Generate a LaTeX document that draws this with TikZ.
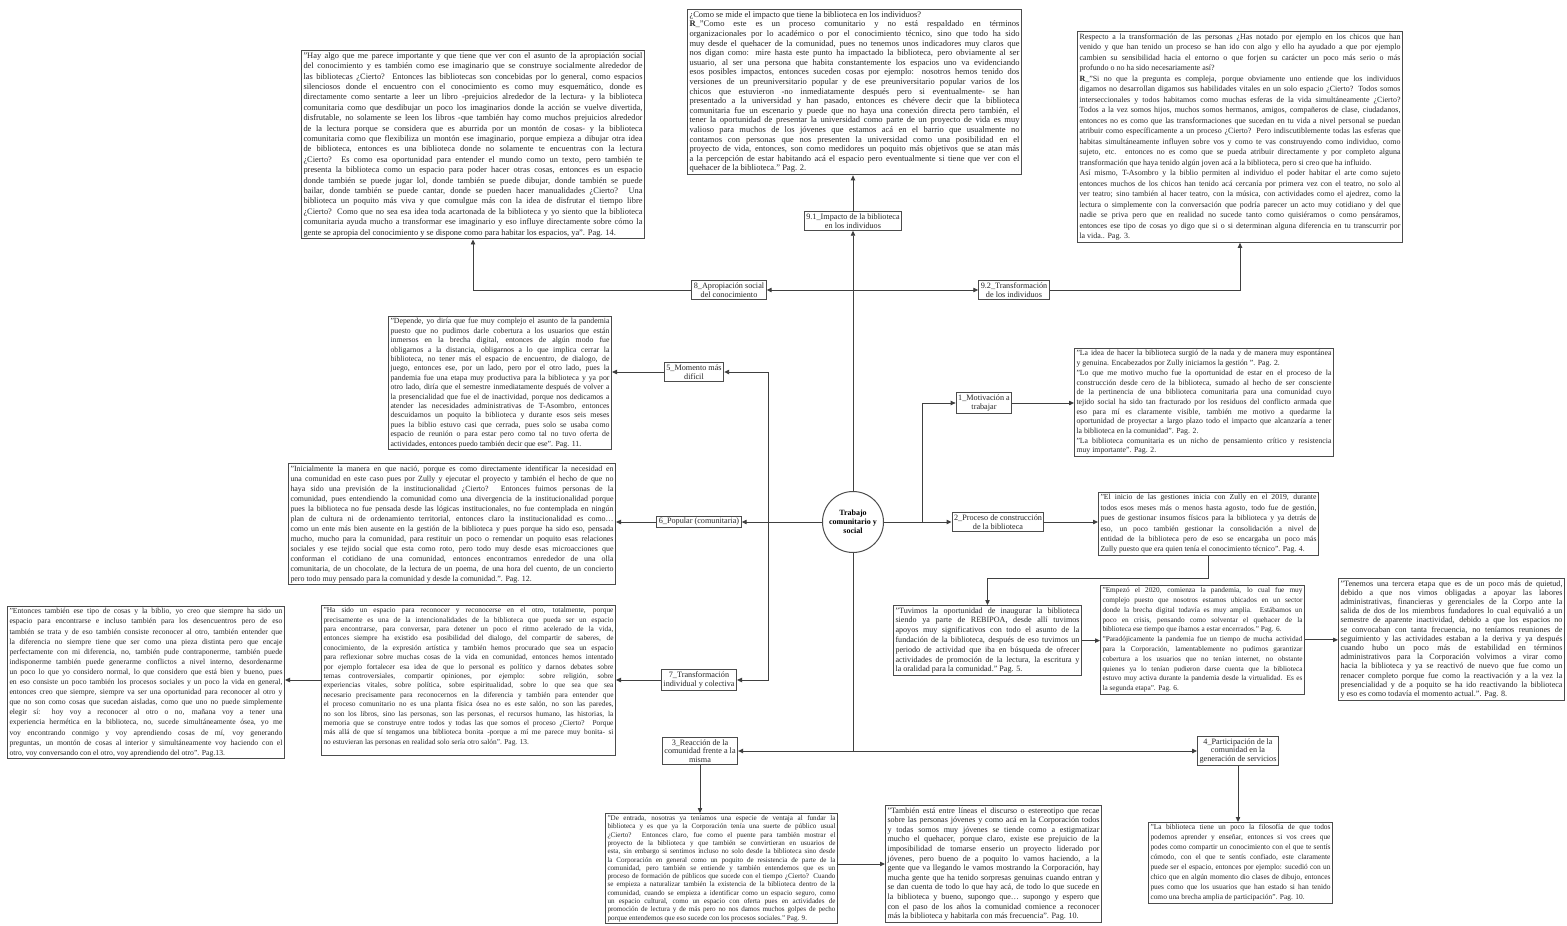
\documentclass[tikz,border=0pt]{standalone}
\usepackage{fontspec}
\setmainfont{Liberation Serif}
\usetikzlibrary{arrows.meta}
\newcommand{\qfont}[2]{\fontsize{#1}{#2}\selectfont}
\newcommand{\lnbr}{\linebreak}
\begin{document}
\begin{tikzpicture}[x=1pt, y=-1pt,
	quote/.style={draw=black!70, line width=1pt, anchor=north west, align=justify, inner sep=2pt, text=black!85},
	topic/.style={draw=black!70, line width=1pt, align=center, inner sep=2pt, text=black!85, font=\qfont{8.2}{8.7}},
	hub/.style={circle, draw=black!70, line width=1pt, minimum size=61pt, inner sep=0pt, align=center, font=\bfseries\qfont{8}{9}},
	wire/.style={draw=black!75, line width=0.9pt},
	link/.style={wire, -{Triangle[length=5pt,width=4.4pt]}}]
	\useasboundingbox[fill=white] (0,0) rectangle (1567,926);
	\clip (0,0) rectangle (1567,926);

	\node[hub] (hub) at (853,522) {Trabajo\\comunitario y\\social};

	\node[topic] (t91) at (853,221) {9.1\_Impacto de la biblioteca\\en los individuos};
	\node[topic] (t8) at (729,290) {8\_Apropiación social\\del conocimiento};
	\node[topic] (t92) at (1014,290) {9.2\_Transformación\\de los individuos};
	\node[topic] (t5) at (694,372) {5\_Momento más\\difícil};
	\node[topic] (t6) at (699,522) {6\_Popular (comunitaria)};
	\node[topic] (t7) at (699,680) {7\_Transformación\\individual y colectiva};
	\node[topic] (t3) at (700,751) {3\_Reacción de la\\comunidad frente a la\\misma};
	\node[topic] (t4) at (1238,751) {4\_Participación de la\\comunidad en la\\generación de servicios};
	\node[topic] (t1) at (984,403) {1\_Motivación a\\trabajar};
	\node[topic] (t2) at (998,522) {2\_Proceso de construcción\\de la biblioteca};

	\node[quote, text width=339pt, font=\qfont{8.4}{10.4}] (qA) at (301,50) {"Hay algo que me parece importante y que tiene que ver con el asunto de la apropiación social\lnbr
		del conocimiento y es también como ese imaginario que se construye socialmente alrededor de\lnbr
		las bibliotecas ¿Cierto? Entonces las bibliotecas son concebidas por lo general, como espacios\lnbr
		silenciosos donde el encuentro con el conocimiento es como muy esquemático, donde es\lnbr
		directamente como sentarte a leer un libro -prejuicios alrededor de la lectura- y la biblioteca\lnbr
		comunitaria como que desdibujar un poco los imaginarios donde la acción se vuelve divertida,\lnbr
		disfrutable, no solamente se leen los libros -que también hay como muchos prejuicios alrededor\lnbr
		de la lectura porque se considera que es aburrida por un montón de cosas- y la biblioteca\lnbr
		comunitaria como que flexibiliza un montón ese imaginario, porque empieza a dibujar otra idea\lnbr
		de biblioteca, entonces es una biblioteca donde no solamente te encuentras con la lectura\lnbr
		¿Cierto? Es como esa oportunidad para entender el mundo como un texto, pero también te\lnbr
		presenta la biblioteca como un espacio para poder hacer otras cosas, entonces es un espacio\lnbr
		donde también se puede jugar lol, donde también se puede dibujar, donde también se puede\lnbr
		bailar, donde también se puede cantar, donde se pueden hacer manualidades ¿Cierto? Una\lnbr
		biblioteca un poquito más viva y que comulgue más con la idea de disfrutar el tiempo libre\lnbr
		¿Cierto? Como que no sea esa idea toda acartonada de la biblioteca y yo siento que la biblioteca\lnbr
		comunitaria ayuda mucho a transformar ese imaginario y eso influye directamente sobre cómo la\lnbr
		gente se apropia del conocimiento y se dispone como para habitar los espacios, ya". Pag. 14.};

	\node[quote, text width=330pt, font=\qfont{8.5}{9.6}] (q91) at (687,9) {¿Como se mide el impacto que tiene la biblioteca en los individuos?\\
		\textbf{R}\_"Como este es un proceso comunitario y no está respaldado en términos\lnbr
		organizacionales por lo académico o por el conocimiento técnico, sino que todo ha sido\lnbr
		muy desde el quehacer de la comunidad, pues no tenemos unos indicadores muy claros que\lnbr
		nos digan como: mire hasta este punto ha impactado la biblioteca, pero obviamente al ser\lnbr
		usuario, al ser una persona que habita constantemente los espacios uno va evidenciando\lnbr
		esos posibles impactos, entonces suceden cosas por ejemplo: nosotros hemos tenido dos\lnbr
		versiones de un preuniversitario popular y de ese preuniversitario popular varios de los\lnbr
		chicos que estuvieron -no inmediatamente después pero si eventualmente- se han\lnbr
		presentado a la universidad y han pasado, entonces es chévere decir que la biblioteca\lnbr
		comunitaria fue un escenario y puede que no haya una conexión directa pero también, el\lnbr
		tener la oportunidad de presentar la universidad como parte de un proyecto de vida es muy\lnbr
		valioso para muchos de los jóvenes que estamos acá en el barrio que usualmente no\lnbr
		contamos con personas que nos presenten la universidad como una posibilidad en el\lnbr
		proyecto de vida, entonces, son como medidores un poquito más objetivos que se atan más\lnbr
		a la percepción de estar habitando acá el espacio pero eventualmente si tiene que ver con el\lnbr
		quehacer de la biblioteca." Pag. 2.};

	\node[quote, text width=321pt, font=\qfont{7.95}{10.5}] (qC) at (1077,31) {Respecto a la transformación de las personas ¿Has notado por ejemplo en los chicos que han\lnbr
		venido y que han tenido un proceso se han ido con algo y ello ha ayudado a que por ejemplo\lnbr
		cambien su sensibilidad hacia el entorno o que forjen su carácter un poco más serio o más\lnbr
		profundo o no ha sido necesariamente así?\\
		\textbf{R}\_"Si no que la pregunta es compleja, porque obviamente uno entiende que los individuos\lnbr
		digamos no desarrollan digamos sus habilidades vitales en un solo espacio ¿Cierto? Todos somos\lnbr
		interseccionales y todos habitamos como muchas esferas de la vida simultáneamente ¿Cierto?\lnbr
		Todos a la vez somos hijos, muchos somos hermanos, amigos, compañeros de clase, ciudadanos,\lnbr
		entonces no es como que las transformaciones que sucedan en tu vida a nivel personal se puedan\lnbr
		atribuir como específicamente a un proceso ¿Cierto? Pero indiscutiblemente todas las esferas que\lnbr
		habitas simultáneamente influyen sobre vos y como te vas construyendo como individuo, como\lnbr
		sujeto, etc. entonces no es como que se pueda atribuir directamente y por completo alguna\lnbr
		transformación que haya tenido algún joven acá a la biblioteca, pero si creo que ha influido.\\
		Así mismo, T-Asombro y la biblio permiten al individuo el poder habitar el arte como sujeto\lnbr
		entonces muchos de los chicos han tenido acá cercanía por primera vez con el teatro, no solo al\lnbr
		ver teatro; sino también al hacer teatro, con la música, con actividades como el ajedrez, como la\lnbr
		lectura o simplemente con la conversación que podría parecer un acto muy cotidiano y del que\lnbr
		nadie se priva pero que en realidad no sucede tanto como quisiéramos o como pensáramos,\lnbr
		entonces ese tipo de cosas yo digo que si o si determinan alguna diferencia en tu transcurrir por\lnbr
		la vida.. Pag. 3.};

	\node[quote, text width=219pt, font=\qfont{7.8}{9.4}] (q5) at (388,316) {"Depende, yo diría que fue muy complejo el asunto de la pandemia\lnbr
		puesto que no pudimos darle cobertura a los usuarios que están\lnbr
		inmersos en la brecha digital, entonces de algún modo fue\lnbr
		obligarnos a la distancia, obligarnos a lo que implica cerrar la\lnbr
		biblioteca, no tener más el espacio de encuentro, de dialogo, de\lnbr
		juego, entonces ese, por un lado, pero por el otro lado, pues la\lnbr
		pandemia fue una etapa muy productiva para la biblioteca y ya por\lnbr
		otro lado, diría que el semestre inmediatamente después de volver a\lnbr
		la presencialidad que fue el de inactividad, porque nos dedicamos a\lnbr
		atender las necesidades administrativas de T-Asombro, entonces\lnbr
		descuidamos un poquito la biblioteca y durante esos seis meses\lnbr
		pues la biblio estuvo casi que cerrada, pues solo se usaba como\lnbr
		espacio de reunión o para estar pero como tal no tuvo oferta de\lnbr
		actividades, entonces puedo también decir que ese". Pag. 11.};

	\node[quote, text width=323pt, font=\qfont{7.9}{10}] (q6) at (288,463) {"Inicialmente la manera en que nació, porque es como directamente identificar la necesidad en\lnbr
		una comunidad en este caso pues por Zully y ejecutar el proyecto y también el hecho de que no\lnbr
		haya sido una previsión de la institucionalidad ¿Cierto? Entonces fuimos personas de la\lnbr
		comunidad, pues entendiendo la comunidad como una divergencia de la institucionalidad porque\lnbr
		pues la biblioteca no fue pensada desde las lógicas institucionales, no fue contemplada en ningún\lnbr
		plan de cultura ni de ordenamiento territorial, entonces claro la institucionalidad es como…\lnbr
		como un ente más bien ausente en la gestión de la biblioteca y pues porque ha sido eso, pensada\lnbr
		mucho, mucho para la comunidad, para restituir un poco o remendar un poquito esas relaciones\lnbr
		sociales y ese tejido social que esta como roto, pero todo muy desde esas microacciones que\lnbr
		conforman el cotidiano de una comunidad, entonces encontramos enrededor de una olla\lnbr
		comunitaria, de un chocolate, de la lectura de un poema, de una hora del cuento, de un concierto\lnbr
		pero todo muy pensado para la comunidad y desde la comunidad.". Pag. 12.};

	\node[quote, text width=273pt, font=\qfont{7.7}{10.1}] (q7a) at (7,606) {"Entonces también ese tipo de cosas y la biblio, yo creo que siempre ha sido un\lnbr
		espacio para encontrarse e incluso también para los desencuentros pero de eso\lnbr
		también se trata y de eso también consiste reconocer al otro, también entender que\lnbr
		la diferencia no siempre tiene que ser como una pieza distinta pero que encaje\lnbr
		perfectamente con mi diferencia, no, también pude contraponerme, también puede\lnbr
		indisponerme también puede generarme conflictos a nivel interno, desordenarme\lnbr
		un poco lo que yo considero normal, lo que considero que está bien y bueno, pues\lnbr
		en eso consiste un poco también los procesos sociales y un poco la vida en general,\lnbr
		entonces creo que siempre, siempre va ser una oportunidad para reconocer al otro y\lnbr
		que no son como cosas que sucedan aisladas, como que uno no puede simplemente\lnbr
		elegir sí: hoy voy a reconocer al otro o no, mañana voy a tener una\lnbr
		experiencia hermética en la biblioteca, no, sucede simultáneamente ósea, yo me\lnbr
		voy encontrando conmigo y voy aprendiendo cosas de mí, voy generando\lnbr
		preguntas, un montón de cosas al interior y simultáneamente voy haciendo con el\lnbr
		otro, voy conversando con el otro, voy aprendiendo del otro". Pag.13.};

	\node[quote, text width=290pt, font=\qfont{7.4}{9.4}] (q7b) at (321,605) {"Ha sido un espacio para reconocer y reconocerse en el otro, totalmente, porque\lnbr
		precisamente es una de la intencionalidades de la biblioteca que pueda ser un espacio\lnbr
		para encontrarse, para conversar, para detener un poco el ritmo acelerado de la vida,\lnbr
		entonces siempre ha existido esa posibilidad del dialogo, del compartir de saberes, de\lnbr
		conocimiento, de la expresión artística y también hemos procurado que sea un espacio\lnbr
		para reflexionar sobre muchas cosas de la vida en comunidad, entonces hemos intentado\lnbr
		por ejemplo fortalecer esa idea de que lo personal es político y darnos debates sobre\lnbr
		temas controversiales, compartir opiniones, por ejemplo: sobre religión, sobre\lnbr
		experiencias vitales, sobre política, sobre espiritualidad, sobre lo que sea que sea\lnbr
		necesario precisamente para reconocernos en la diferencia y también para entender que\lnbr
		el proceso comunitario no es una planta física ósea no es este salón, no son las paredes,\lnbr
		no son los libros, sino las personas, son las personas, el recursos humano, las historias, la\lnbr
		memoria que se construye entre todos y todas las que somos el proceso ¿Cierto? Porque\lnbr
		más allá de que sí tengamos una biblioteca bonita -porque a mí me parece muy bonita- si\lnbr
		no estuvieran las personas en realidad solo sería otro salón". Pag. 13.\\\mbox{}};

	\node[quote, text width=228pt, font=\qfont{7.1}{8.3}] (q3) at (605,813) {"De entrada, nosotras ya teníamos una especie de ventaja al fundar la\lnbr
		biblioteca y es que ya la Corporación tenía una suerte de público usual\lnbr
		¿Cierto? Entonces claro, fue como el puente para también mostrar el\lnbr
		proyecto de la biblioteca y que también se convirtieran en usuarios de\lnbr
		esta, sin embargo si sentimos incluso no solo desde la biblioteca sino desde\lnbr
		la Corporación en general como un poquito de resistencia de parte de la\lnbr
		comunidad, pero también se entiende y también entendemos que es un\lnbr
		proceso de formación de públicos que sucede con el tiempo ¿Cierto? Cuando\lnbr
		se empieza a naturalizar también la existencia de la biblioteca dentro de la\lnbr
		comunidad, cuando se empieza a identificar como un espacio seguro, como\lnbr
		un espacio cultural, como un espacio con oferta pues en actividades de\lnbr
		promoción de lectura y de más pero no nos damos muchos golpes de pecho\lnbr
		porque entendemos que eso sucede con los procesos sociales." Pag. 9.};

	\node[quote, text width=212pt, font=\qfont{8.1}{9.6}] (q3b) at (885,805) {"También está entre líneas el discurso o estereotipo que recae\lnbr
		sobre las personas jóvenes y como acá en la Corporación todos\lnbr
		y todas somos muy jóvenes se tiende como a estigmatizar\lnbr
		mucho el quehacer, porque claro, existe ese prejuicio de la\lnbr
		imposibilidad de tomarse enserio un proyecto liderado por\lnbr
		jóvenes, pero bueno de a poquito lo vamos haciendo, a la\lnbr
		gente que va llegando le vamos mostrando la Corporación, hay\lnbr
		mucha gente que ha tenido sorpresas genuinas cuando entran y\lnbr
		se dan cuenta de todo lo que hay acá, de todo lo que sucede en\lnbr
		la biblioteca y bueno, supongo que… supongo y espero que\lnbr
		con el paso de los años la comunidad comience a reconocer\lnbr
		más la biblioteca y habitarla con más frecuencia". Pag. 10.};

	\node[quote, text width=180pt, font=\qfont{7.4}{10}] (q4) at (1148,822) {"La biblioteca tiene un poco la filosofía de que todos\lnbr
		podemos aprender y enseñar, entonces si vos crees que\lnbr
		podes como compartir un conocimiento con el que te sentís\lnbr
		cómodo, con el que te sentís confiado, este claramente\lnbr
		puede ser el espacio, entonces por ejemplo: sucedió con un\lnbr
		chico que en algún momento dio clases de dibujo, entonces\lnbr
		pues como que los usuarios que han estado si han tenido\lnbr
		como una brecha amplia de participación". Pag. 10.};

	\node[quote, text width=255pt, font=\qfont{7.8}{9.7}] (q1) at (1074,348) {"La idea de hacer la biblioteca surgió de la nada y de manera muy espontánea\lnbr
		y genuina. Encabezados por Zully iniciamos la gestión ". Pag. 2.\\
		"Lo que me motivo mucho fue la oportunidad de estar en el proceso de la\lnbr
		construcción desde cero de la biblioteca, sumado al hecho de ser consciente\lnbr
		de la pertinencia de una biblioteca comunitaria para una comunidad cuyo\lnbr
		tejido social ha sido tan fracturado por los residuos del conflicto armada que\lnbr
		eso para mí es claramente visible, también me motivo a quedarme la\lnbr
		oportunidad de proyectar a largo plazo todo el impacto que alcanzaría a tener\lnbr
		la biblioteca en la comunidad". Pag. 2.\\
		"La biblioteca comunitaria es un nicho de pensamiento crítico y resistencia\lnbr
		muy importante". Pag. 2.};

	\node[quote, text width=216pt, font=\qfont{7.7}{10.4}] (q2) at (1098,492) {"El inicio de las gestiones inicia con Zully en el 2019, durante\lnbr
		todos esos meses más o menos hasta agosto, todo fue de gestión,\lnbr
		pues de gestionar insumos físicos para la biblioteca y ya detrás de\lnbr
		eso, un poco también gestionar la consolidación a nivel de\lnbr
		entidad de la biblioteca pero de eso se encargaba un poco más\lnbr
		Zully puesto que era quien tenía el conocimiento técnico". Pag. 4.};

	\node[quote, text width=184pt, font=\qfont{8.1}{9.8}] (qTuv) at (893,605) {"Tuvimos la oportunidad de inaugurar la biblioteca\lnbr
		siendo ya parte de REBIPOA, desde allí tuvimos\lnbr
		apoyos muy significativos con todo el asunto de la\lnbr
		fundación de la biblioteca, después de eso tuvimos un\lnbr
		periodo de actividad que iba en búsqueda de ofrecer\lnbr
		actividades de promoción de la lectura, la escritura y\lnbr
		la oralidad para la comunidad." Pag. 5.};

	\node[quote, text width=200pt, font=\qfont{7.3}{9.8}] (qEmp) at (1100,585) {"Empezó el 2020, comienza la pandemia, lo cual fue muy\lnbr
		complejo puesto que nosotros estamos ubicados en un sector\lnbr
		donde la brecha digital todavía es muy amplia. Estábamos un\lnbr
		poco en crisis, pensando como solventar el quehacer de la\lnbr
		biblioteca ese tiempo que íbamos a estar encerrados." Pag. 6.\\
		"Paradójicamente la pandemia fue un tiempo de mucha actividad\lnbr
		para la Corporación, lamentablemente no pudimos garantizar\lnbr
		cobertura a los usuarios que no tenían internet, no obstante\lnbr
		quienes ya lo tenían pudieron darse cuenta que la biblioteca\lnbr
		estuvo muy activa durante la pandemia desde la virtualidad. Es es\lnbr
		la segunda etapa". Pag. 6.};

	\node[quote, text width=222pt, font=\qfont{8.1}{9.2}] (qTen) at (1338,578) {"Tenemos una tercera etapa que es de un poco más de quietud,\lnbr
		debido a que nos vimos obligadas a apoyar las labores\lnbr
		administrativas, financieras y gerenciales de la Corpo ante la\lnbr
		salida de dos de los miembros fundadores lo cual equivalió a un\lnbr
		semestre de aparente inactividad, debido a que los espacios no\lnbr
		se convocaban con tanta frecuencia, no teníamos reuniones de\lnbr
		seguimiento y las actividades estaban a la deriva y ya después\lnbr
		cuando hubo un poco más de estabilidad en términos\lnbr
		administrativos para la Corporación volvimos a virar como\lnbr
		hacia la biblioteca y ya se reactivó de nuevo que fue como un\lnbr
		renacer completo porque fue como la reactivación y a la vez la\lnbr
		presencialidad y de a poquito se ha ido reactivando la biblioteca\lnbr
		y eso es como todavía el momento actual.". Pag. 8.};

	\coordinate (top) at (853,290);
	\coordinate (lft) at (768,522);
	\coordinate (rgt) at (922,522);
	\coordinate (bot) at (853,751);

	\draw[link] (hub.north) -- (t91.south);
	\draw[link] (top) -- (t8.east);
	\draw[link] (top) -- (t92.west);
	\draw[link] (t91.north) -- (t91.north |- q91.south);
	\draw[link] (t8.west) -| (qA.south);
	\draw[link] (t92.east) -| (qC.south);

	\draw[link] (hub.west) -- (t6.east);
	\draw[link] (lft) |- (t5.east);
	\draw[link] (lft) |- (t7.east);
	\draw[link] (t5.west) -- (t5.west -| q5.east);
	\draw[link] (t6.west) -- (t6.west -| q6.east);
	\draw[link] (t7.west) -- (t7.west -| q7b.east);
	\draw[link] (q7b.west |- t7.west) -- (q7a.east |- t7.west);

	\draw[link] (hub.east) -- (t2.west);
	\draw[link] (rgt) |- (t1.west);
	\draw[link] (t1.east) -- (t1.east -| q1.west);
	\draw[link] (t2.east) -- (t2.east -| q2.west);
	\draw[link] (q2.south) -- ++(0,22) -| (qTuv.north);
	\draw[link] (qTuv.east) -- (qTuv.east -| qEmp.west);
	\draw[link] (qEmp.east) -- (qEmp.east -| qTen.west);

	\draw[wire] (hub.south) -- (bot);
	\draw[link] (bot) -- (t3.east);
	\draw[link] (bot) -- (t4.west);
	\draw[link] (t3.south) -- (t3.south |- q3.north);
	\draw[link] (t4.south) -- (t4.south |- q4.north);
	\draw[link] (q3.east |- q3b.west) -- (q3b.west);
\end{tikzpicture}
\end{document}
